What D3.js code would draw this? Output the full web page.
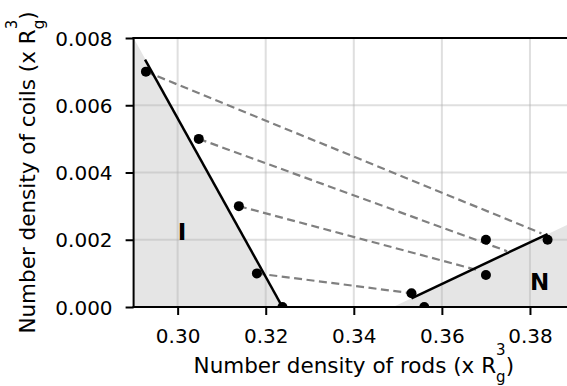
<!DOCTYPE html>
<html>
<head>
<meta charset="utf-8">
<script src="https://cdn.jsdelivr.net/npm/d3@7"></script>
<style>
  html, body { margin: 0; padding: 0; background: #fff; }
  svg { display: block; font-family: "DejaVu Sans", sans-serif; }
</style>
</head>
<body>
<script>
// ---- data ----
const xTicks = [0.30, 0.32, 0.34, 0.36, 0.38];
const yTicks = [0.000, 0.002, 0.004, 0.006, 0.008];
const pointsX = [0.2928, 0.3048, 0.3139, 0.3180, 0.3238, 0.3531, 0.3560, 0.3700, 0.3700, 0.3840];
const pointsY = [0.0070, 0.0050, 0.0030, 0.0010, 0.0000, 0.00041, 0.0000, 0.0020, 0.00095, 0.0020];
const tieStartX = [0.2928, 0.3048, 0.3139, 0.3180];
const tieStartY = [0.0070, 0.0050, 0.0030, 0.0010];
const tieEndX = [0.3826, 0.3748, 0.3680, 0.3525];
const tieEndY = [0.00219, 0.00166, 0.0011, 0.00042];
const lineIX = [0.2926, 0.3238];
const lineIY = [0.00736, 0.0];
const lineNX = [0.3531, 0.3840];
const lineNY = [0.00026, 0.00217];
const shadeIX = [0.29, 0.3238, 0.29];
const shadeIY = [0.008, 0.0, 0.0];
const shadeNX = [0.3489, 0.39, 0.39];
const shadeNY = [0.0, 0.00254, 0.0];
const labels = [{t: "I", x: 0.30, y: 0.002}, {t: "N", x: 0.38, y: 0.0005}];

// ---- layout ----
const W = 567, H = 386;
const L = 133.6, R = 574, T = 38, B = 307;
const x = d3.scaleLinear().domain([0.29, 0.39]).range([L, R]);
const y = d3.scaleLinear().domain([0, 0.008]).range([B, T]);

const svg = d3.select("body").append("svg").attr("width", W).attr("height", H);
svg.append("defs").append("clipPath").attr("id", "clip")
  .append("rect").attr("x", L).attr("y", T).attr("width", R - L).attr("height", B - T);

const plot = svg.append("g").attr("clip-path", "url(#clip)");

const poly = (xs, ys) => xs.map((v, i) => [x(v), y(ys[i])]);
plot.append("path").attr("d", "M" + poly(shadeIX, shadeIY).join("L") + "Z").attr("fill", "#e5e5e5");
plot.append("path").attr("d", "M" + poly(shadeNX, shadeNY).join("L") + "Z").attr("fill", "#e5e5e5");

// grid
plot.selectAll(".gx").data(xTicks).enter().append("line")
  .attr("x1", d => x(d)).attr("x2", d => x(d)).attr("y1", T).attr("y2", B)
  .attr("stroke", "#b0b0b0").attr("stroke-opacity", 0.4).attr("stroke-width", 2);
plot.selectAll(".gy").data(yTicks).enter().append("line")
  .attr("x1", L).attr("x2", R).attr("y1", d => y(d)).attr("y2", d => y(d))
  .attr("stroke", "#b0b0b0").attr("stroke-opacity", 0.4).attr("stroke-width", 2);

// tie lines
plot.selectAll(".tie").data(tieStartX).enter().append("line")
  .attr("x1", (d, i) => x(d)).attr("y1", (d, i) => y(tieStartY[i]))
  .attr("x2", (d, i) => x(tieEndX[i])).attr("y2", (d, i) => y(tieEndY[i]))
  .attr("stroke", "#808080").attr("stroke-width", 2.2).attr("stroke-dasharray", "8,4.5");

const line = d3.line();
plot.append("path").attr("d", line(poly(lineIX, lineIY))).attr("stroke", "#000").attr("stroke-width", 2.5).attr("fill", "none");
plot.append("path").attr("d", line(poly(lineNX, lineNY))).attr("stroke", "#000").attr("stroke-width", 2.5).attr("fill", "none");

plot.selectAll(".pt").data(pointsX).enter().append("circle")
  .attr("cx", d => x(d)).attr("cy", (d, i) => y(pointsY[i])).attr("r", 5).attr("fill", "#000");

plot.selectAll(".lab").data(labels).enter().append("text")
  .attr("x", d => x(d.x)).attr("y", d => y(d.y))
  .attr("font-size", 23).attr("font-weight", "bold").text(d => d.t);

// axes
const xAxis = svg.append("g").attr("transform", `translate(0,${B})`)
  .call(d3.axisBottom(x).tickValues(xTicks).tickFormat(d3.format(".2f")).tickSize(8).tickSizeOuter(0));
const yAxis = svg.append("g").attr("transform", `translate(${L},0)`)
  .call(d3.axisLeft(y).tickValues(yTicks).tickFormat(d3.format(".3f")).tickSize(8).tickSizeOuter(0));
[xAxis, yAxis].forEach(a => {
  a.select(".domain").remove();
  a.selectAll(".tick line").attr("stroke", "#000").attr("stroke-width", 2);
  a.selectAll(".tick text").attr("font-size", 20).attr("font-family", "DejaVu Sans").attr("fill", "#000");
});
xAxis.selectAll(".tick text").attr("dy", null).attr("y", 36);
yAxis.selectAll(".tick text").attr("x", -21).attr("dy", "0.36em");

// spines
svg.append("line").attr("x1", L).attr("x2", L).attr("y1", T - 1).attr("y2", B + 1).attr("stroke", "#000").attr("stroke-width", 2);
svg.append("line").attr("x1", L - 1).attr("x2", R).attr("y1", B).attr("y2", B).attr("stroke", "#000").attr("stroke-width", 2);
svg.append("line").attr("x1", L - 1).attr("x2", R).attr("y1", T).attr("y2", T).attr("stroke", "#000").attr("stroke-width", 2);
svg.append("line").attr("x1", R).attr("x2", R).attr("y1", T).attr("y2", B).attr("stroke", "#000").attr("stroke-width", 2);

// axis labels
function axisLabel(g, main) {
  const t = g.append("text").attr("font-size", 21.5).attr("fill", "#000").attr("text-anchor", "middle");
  t.append("tspan").text(main + "(x R");
  t.append("tspan").attr("font-size", 15).attr("dy", -18).text("3");
  t.append("tspan").attr("font-size", 15).attr("dx", -9.5).attr("dy", 27).text("g");
  t.append("tspan").attr("dy", -9).text(")");
  return t;
}
axisLabel(svg.append("g").attr("transform", `translate(${(L + R) / 2},372.5)`), "Number density of rods ");
axisLabel(svg.append("g").attr("transform", `translate(34.5,${(T + B) / 2}) rotate(-90)`), "Number density of coils ");
</script>
</body>
</html>
